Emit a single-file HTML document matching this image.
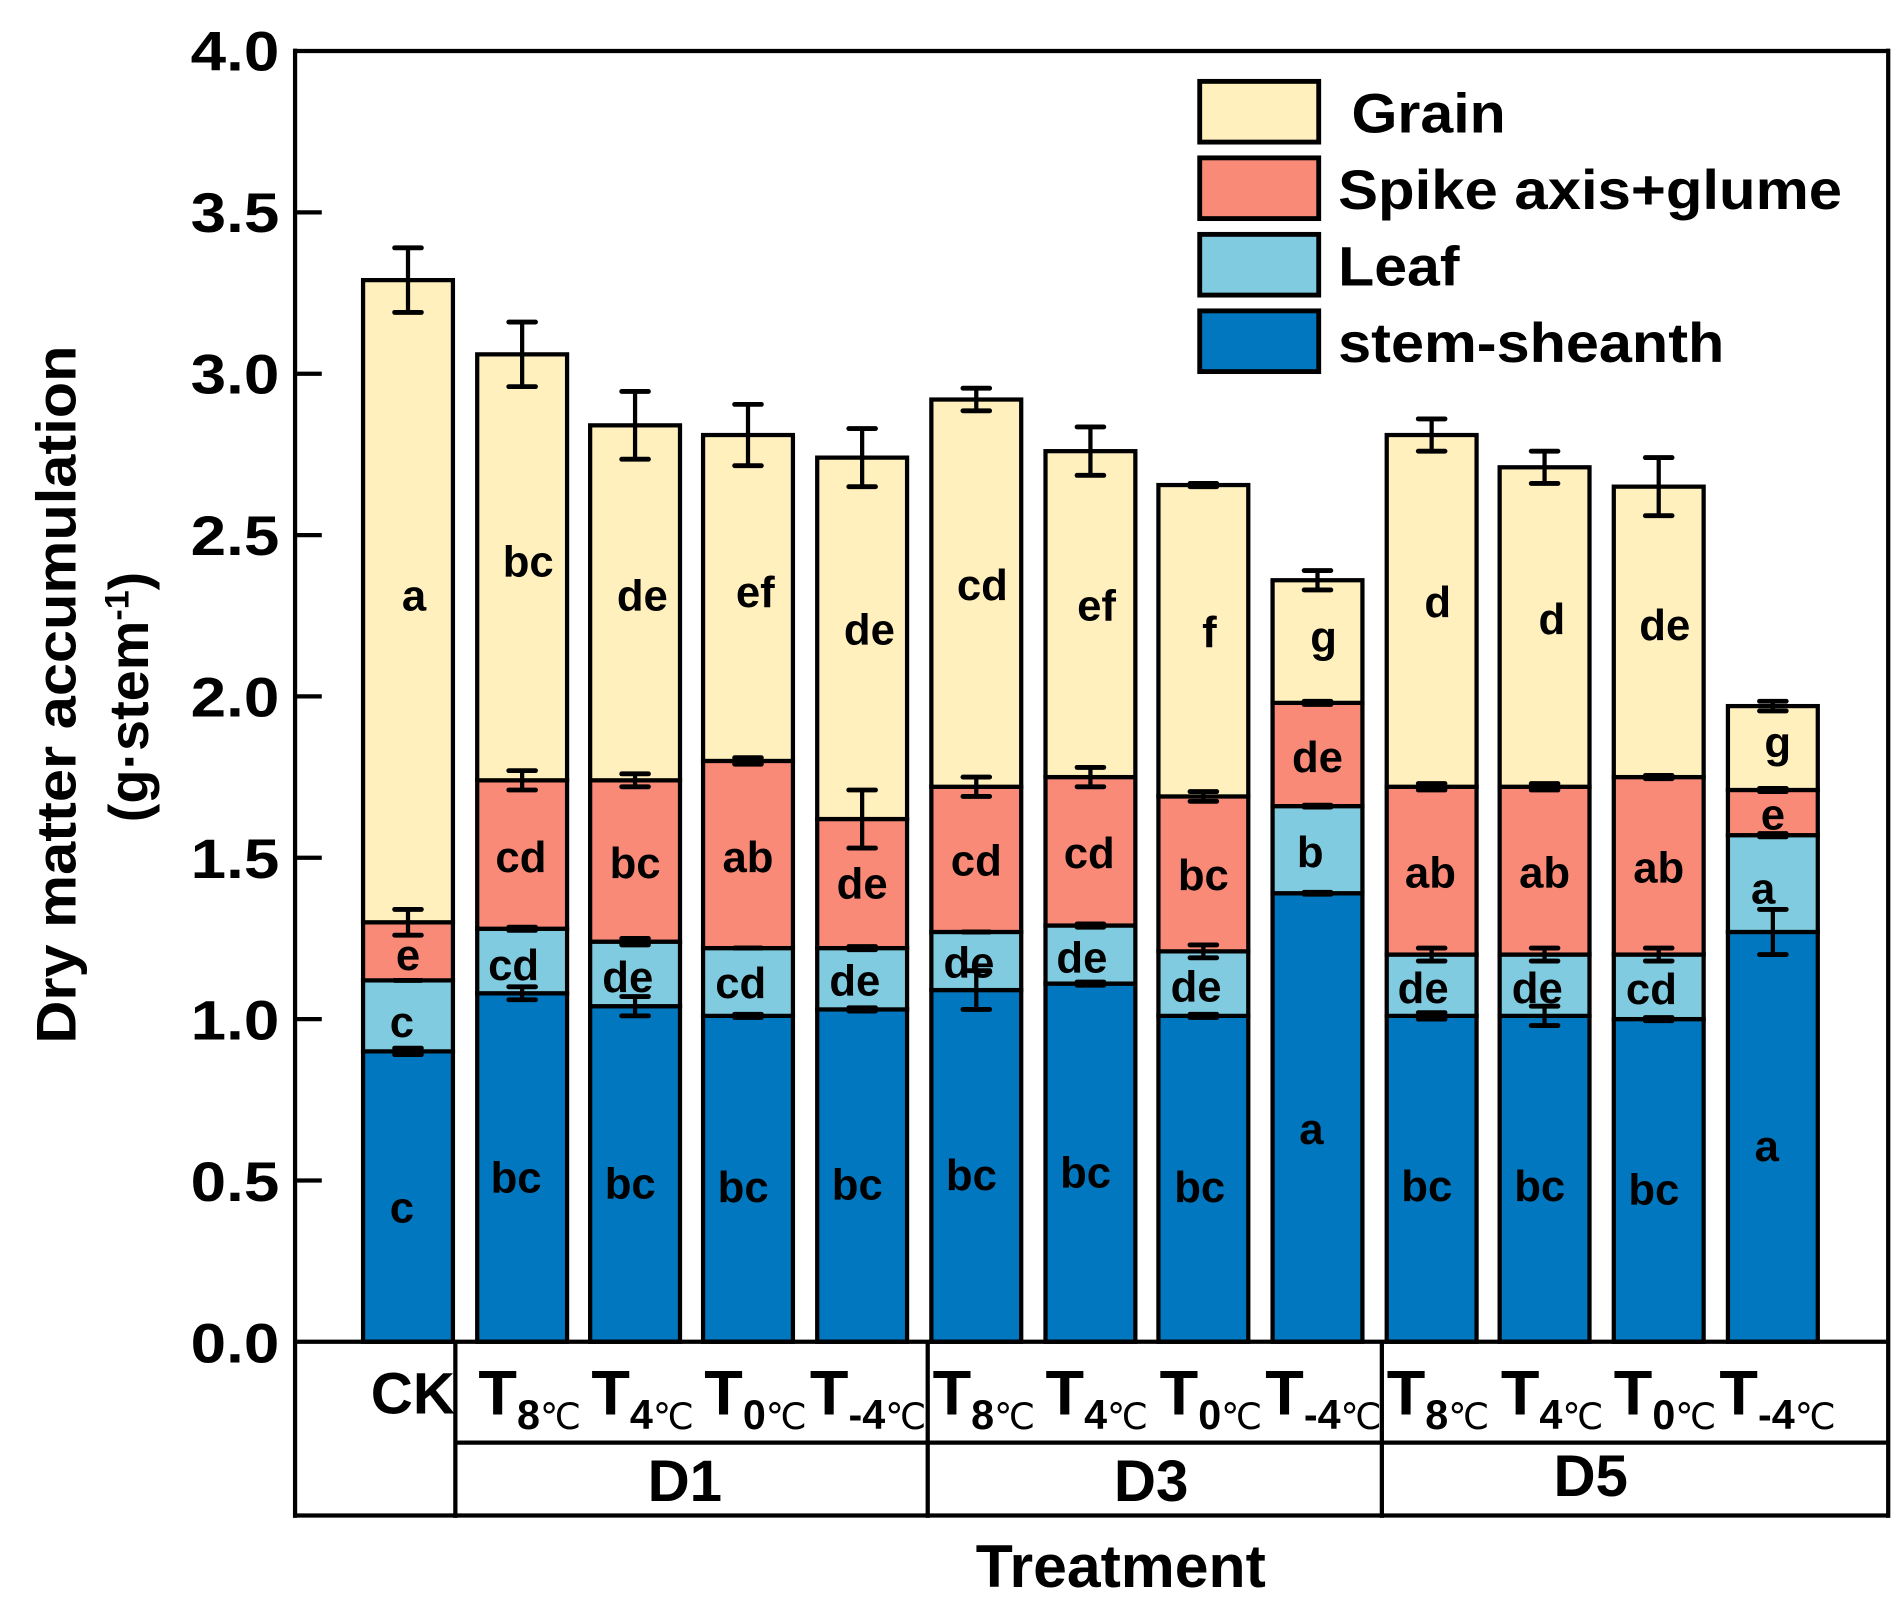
<!DOCTYPE html>
<html><head><meta charset="utf-8"><style>
html,body{margin:0;padding:0;background:#fff;}
svg{display:block;}
text{font-family:"Liberation Sans",sans-serif;font-weight:bold;fill:#000;}
</style></head><body>
<svg id="s" width="1904" height="1612" viewBox="0 0 1568 1327.5" xmlns="http://www.w3.org/2000/svg">
<rect width="1568" height="1327.5" fill="#fff"/>
<g id="bars"></g>
<g stroke="#000" stroke-width="3.5" fill="none">
<line x1="243" y1="42" x2="1555" y2="42"/>
<line x1="243" y1="40" x2="243" y2="1250"/>
<line x1="1555" y1="40" x2="1555" y2="1250"/>
<line x1="243" y1="1105" x2="1555" y2="1105"/>
<line x1="375" y1="1188" x2="1555" y2="1188"/>
<line x1="243" y1="1248" x2="1555" y2="1248"/>
<line x1="375" y1="1105" x2="375" y2="1250"/>
<line x1="764" y1="1105" x2="764" y2="1250"/>
<line x1="1138" y1="1105" x2="1138" y2="1250"/>
</g>
<g id="ticks" stroke="#000" stroke-width="3.5"></g>
<g font-size="46" text-anchor="end">
<text x="230" y="58" textLength="73" lengthAdjust="spacingAndGlyphs">4.0</text>
<text x="230" y="191" textLength="73" lengthAdjust="spacingAndGlyphs">3.5</text>
<text x="230" y="324" textLength="73" lengthAdjust="spacingAndGlyphs">3.0</text>
<text x="230" y="457" textLength="73" lengthAdjust="spacingAndGlyphs">2.5</text>
<text x="230" y="590" textLength="73" lengthAdjust="spacingAndGlyphs">2.0</text>
<text x="230" y="723" textLength="73" lengthAdjust="spacingAndGlyphs">1.5</text>
<text x="230" y="856" textLength="73" lengthAdjust="spacingAndGlyphs">1.0</text>
<text x="230" y="989" textLength="73" lengthAdjust="spacingAndGlyphs">0.5</text>
<text x="230" y="1122" textLength="73" lengthAdjust="spacingAndGlyphs">0.0</text>
</g>
<text font-size="46" text-anchor="middle" transform="translate(62,572) rotate(-90)" textLength="575" lengthAdjust="spacingAndGlyphs">Dry matter accumulation</text>
<text font-size="46" text-anchor="middle" transform="translate(122,574) rotate(-90)">(g·stem<tspan font-size="28" dy="-16">-1</tspan><tspan dy="16">)</tspan></text>
<g stroke="#000" stroke-width="4">
<rect x="988" y="67" width="98" height="50" fill="#fff0bd"/>
<rect x="988" y="130" width="98" height="50" fill="#fa8a78"/>
<rect x="988" y="193" width="98" height="50" fill="#80cbdf"/>
<rect x="988" y="256" width="98" height="50" fill="#0077be"/>
</g>
<g font-size="46">
<text x="1113" y="109" textLength="127" lengthAdjust="spacingAndGlyphs">Grain</text>
<text x="1102" y="172" textLength="415" lengthAdjust="spacingAndGlyphs">Spike axis+glume</text>
<text x="1102" y="235" textLength="100" lengthAdjust="spacingAndGlyphs">Leaf</text>
<text x="1102" y="298" textLength="318" lengthAdjust="spacingAndGlyphs">stem-sheanth</text>
</g>
<g font-size="36" text-anchor="middle" dominant-baseline="central">
<text x="341" y="491">a</text><text x="336" y="787">e</text><text x="331" y="842">c</text><text x="331" y="995">c</text>
<text x="435" y="463">bc</text><text x="429" y="706">cd</text><text x="423" y="795">cd</text><text x="425" y="970">bc</text>
<text x="529" y="491">de</text><text x="523" y="711">bc</text><text x="517" y="805">de</text><text x="519" y="975">bc</text>
<text x="622" y="488">ef</text><text x="616" y="706">ab</text><text x="610" y="810">cd</text><text x="612" y="978">bc</text>
<text x="716" y="519">de</text><text x="710" y="728">de</text><text x="704" y="808">de</text><text x="706" y="976">bc</text>
<text x="809" y="482">cd</text><text x="804" y="709">cd</text><text x="798" y="793">de</text><text x="800" y="968">bc</text>
<text x="903" y="499">ef</text><text x="897" y="703">cd</text><text x="891" y="789">de</text><text x="894" y="966">bc</text>
<text x="996" y="521">f</text><text x="991" y="721">bc</text><text x="985" y="813">de</text><text x="988" y="978">bc</text>
<text x="1090" y="525">g</text><text x="1085" y="624">de</text><text x="1079" y="702">b</text><text x="1080" y="930">a</text>
<text x="1184" y="496">d</text><text x="1178" y="719">ab</text><text x="1172" y="814">de</text><text x="1175" y="977">bc</text>
<text x="1278" y="510">d</text><text x="1272" y="719">ab</text><text x="1266" y="814">de</text><text x="1268" y="977">bc</text>
<text x="1371" y="515">de</text><text x="1366" y="715">ab</text><text x="1360" y="815">cd</text><text x="1362" y="980">bc</text>
<text x="1464" y="612">g</text><text x="1460" y="671">e</text><text x="1452" y="732">a</text><text x="1455" y="944">a</text>
</g>
<text x="340" y="1164" font-size="48" text-anchor="middle">CK</text>
<g font-size="52">
<text x="394" y="1165">T<tspan font-size="34" dy="12">8</tspan><tspan font-size="30" font-weight="normal">℃</tspan></text>
<text x="487" y="1165">T<tspan font-size="34" dy="12">4</tspan><tspan font-size="30" font-weight="normal">℃</tspan></text>
<text x="580" y="1165">T<tspan font-size="34" dy="12">0</tspan><tspan font-size="30" font-weight="normal">℃</tspan></text>
<text x="667" y="1165">T<tspan font-size="34" dy="12">-4</tspan><tspan font-size="30" font-weight="normal">℃</tspan></text>
<text x="768" y="1165">T<tspan font-size="34" dy="12">8</tspan><tspan font-size="30" font-weight="normal">℃</tspan></text>
<text x="861" y="1165">T<tspan font-size="34" dy="12">4</tspan><tspan font-size="30" font-weight="normal">℃</tspan></text>
<text x="955" y="1165">T<tspan font-size="34" dy="12">0</tspan><tspan font-size="30" font-weight="normal">℃</tspan></text>
<text x="1042" y="1165">T<tspan font-size="34" dy="12">-4</tspan><tspan font-size="30" font-weight="normal">℃</tspan></text>
<text x="1142" y="1165">T<tspan font-size="34" dy="12">8</tspan><tspan font-size="30" font-weight="normal">℃</tspan></text>
<text x="1236" y="1165">T<tspan font-size="34" dy="12">4</tspan><tspan font-size="30" font-weight="normal">℃</tspan></text>
<text x="1329" y="1165">T<tspan font-size="34" dy="12">0</tspan><tspan font-size="30" font-weight="normal">℃</tspan></text>
<text x="1416" y="1165">T<tspan font-size="34" dy="12">-4</tspan><tspan font-size="30" font-weight="normal">℃</tspan></text>
</g>
<g font-size="48" text-anchor="middle">
<text x="564" y="1236">D1</text>
<text x="948" y="1236">D3</text>
<text x="1310" y="1232">D5</text>
</g>
<text x="923" y="1307" font-size="50" text-anchor="middle">Treatment</text>
</svg>
<script>
(function(){
var ns="http://www.w3.org/2000/svg";
function Y(v){return 1105-265.75*v;}
var xs=[336,430,523,616,710,804,898,991,1085,1179,1272,1366,1460];
var d=[
[0.90,1.12,1.30,3.29,0.01,0,0.04,0.10],
[1.08,1.28,1.74,3.06,0.02,0.005,0.03,0.10],
[1.04,1.24,1.74,2.84,0.03,0.01,0.02,0.105],
[1.01,1.22,1.80,2.81,0.005,0,0.01,0.095],
[1.03,1.22,1.62,2.74,0.005,0.005,0.09,0.09],
[1.09,1.27,1.72,2.92,0.06,0,0.03,0.035],
[1.11,1.29,1.75,2.76,0.005,0.005,0.03,0.075],
[1.01,1.21,1.69,2.655,0.005,0.02,0.015,0.005],
[1.39,1.66,1.98,2.36,0.003,0.003,0.005,0.03],
[1.01,1.20,1.72,2.81,0.01,0.02,0.01,0.05],
[1.01,1.20,1.72,2.71,0.03,0.02,0.01,0.05],
[1.00,1.20,1.75,2.65,0.005,0.02,0.005,0.09],
[1.27,1.57,1.71,1.97,0.07,0.005,0.005,0.015]];
var cols=["#0077be","#80cbdf","#fa8a78","#fff0bd"];
var g=document.getElementById("bars");
function el(n,a){var e=document.createElementNS(ns,n);for(var k in a)e.setAttribute(k,a[k]);g.appendChild(e);return e;}
var w=74;
for(var i=0;i<13;i++){
 var x=xs[i]-w/2,prev=0;
 for(var j=0;j<4;j++){
  var v=d[i][j];
  el("rect",{x:x,y:Y(v),width:w,height:Y(prev)-Y(v),fill:cols[j],stroke:"#000","stroke-width":3.5});
  prev=v;
 }
 for(var j=0;j<4;j++){
  var v=d[i][j],e=d[i][4+j];
  var cx=xs[i];
  el("line",{x1:cx,y1:Y(v+e),x2:cx,y2:Y(v-e),stroke:"#000","stroke-width":3.5});
  el("line",{x1:cx-11,y1:Y(v+e),x2:cx+11,y2:Y(v+e),stroke:"#000","stroke-width":4,"stroke-linecap":"round"});
  el("line",{x1:cx-11,y1:Y(v-e),x2:cx+11,y2:Y(v-e),stroke:"#000","stroke-width":4,"stroke-linecap":"round"});
 }
}
var t=document.getElementById("ticks");
for(var k=1;k<8;k++){var l=document.createElementNS(ns,"line");var y=Y(k*0.5);l.setAttribute("x1",243);l.setAttribute("x2",265);l.setAttribute("y1",y);l.setAttribute("y2",y);t.appendChild(l);}
})();
</script>
</body></html>
